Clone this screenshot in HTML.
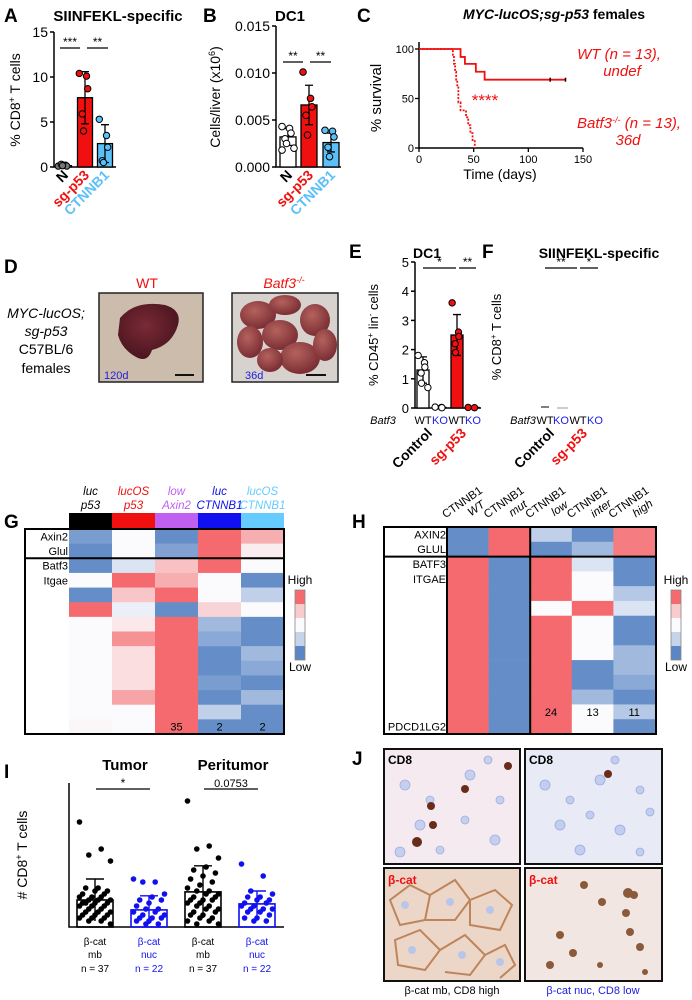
<!DOCTYPE html>
<html><head><meta charset="utf-8"><style>
html,body{margin:0;padding:0;background:#fff;}
svg{display:block;font-family:"Liberation Sans",Arial,sans-serif;}
</style></head><body>
<svg id="fig" width="692" height="1000" viewBox="0 0 692 1000" xmlns="http://www.w3.org/2000/svg">
<defs>
<radialGradient id="liv" cx="45%" cy="40%" r="60%"><stop offset="0" stop-color="#7a2a35"/><stop offset="1" stop-color="#4a1520"/></radialGradient>
<radialGradient id="tum" cx="40%" cy="35%" r="65%"><stop offset="0" stop-color="#b5625e"/><stop offset="1" stop-color="#7a2e33"/></radialGradient>
</defs>
<!-- Panel labels -->
<g font-weight="bold" font-size="19" fill="#000">
<text x="4" y="22">A</text>
<text x="203" y="22">B</text>
<text x="357" y="22">C</text>
<text x="4" y="273">D</text>
<text x="349" y="258">E</text>
<text x="482" y="258">F</text>
<text x="4" y="528">G</text>
<text x="352" y="528">H</text>
<text x="4" y="778">I</text>
<text x="352" y="765">J</text>
</g>
<!-- A -->
<text x="118" y="21" font-size="15" font-weight="bold" text-anchor="middle">SIINFEKL-specific</text>
<text transform="translate(20,100) rotate(-90)" font-size="14" text-anchor="middle">% CD8<tspan font-size="9" dy="-5">+</tspan><tspan dy="5"> T cells</tspan></text>
<g id="gA"></g>
<!-- B -->
<text x="290" y="21" font-size="15" font-weight="bold" text-anchor="middle">DC1</text>
<text transform="translate(220,97) rotate(-90)" font-size="14" text-anchor="middle">Cells/liver (x10<tspan font-size="9" dy="-5">6</tspan><tspan dy="5">)</tspan></text>
<g id="gB"></g>
<!-- C -->
<text x="554" y="19" font-size="14" font-weight="bold" text-anchor="middle"><tspan font-style="italic">MYC-lucOS;sg-p53</tspan> females</text>
<text transform="translate(381,98) rotate(-90)" font-size="15" text-anchor="middle">% survival</text>
<text x="500" y="179" font-size="14" text-anchor="middle">Time (days)</text>
<g fill="#f01010" font-size="15" font-style="italic" text-anchor="middle">
<text x="619" y="59">WT (n = 13),</text>
<text x="622" y="76">undef</text>
<text x="629" y="128">Batf3<tspan font-size="9" dy="-5">-/-</tspan><tspan dy="5"> (n = 13),</tspan></text>
<text x="628" y="145">36d</text>
<text x="485" y="106" font-size="17" font-style="normal">****</text>
</g>
<g id="gC"></g>
<!-- D -->
<text x="147" y="288" font-size="14" fill="#f01010" text-anchor="middle">WT</text>
<text x="284" y="288" font-size="14" fill="#f01010" font-style="italic" text-anchor="middle">Batf3<tspan font-size="9" dy="-5">-/-</tspan></text>
<g font-size="14" text-anchor="middle">
<text x="46" y="318" font-style="italic">MYC-lucOS;</text>
<text x="46" y="336" font-style="italic">sg-p53</text>
<text x="46" y="354">C57BL/6</text>
<text x="46" y="373">females</text>
</g>
<g>
<rect x="99" y="293" width="104" height="89" fill="#cbbcab" stroke="#222" stroke-width="1.5"/>
<path d="M120 318 Q135 300 165 305 Q182 310 178 325 Q172 345 152 350 Q148 362 138 358 Q122 350 118 335 Z" fill="url(#liv)"/>
<text x="104" y="379" font-size="11" fill="#2020e0">120d</text>
<line x1="175" y1="375" x2="194" y2="375" stroke="#111" stroke-width="2"/>
</g>
<g>
<rect x="232" y="293" width="106" height="89" fill="#d8d2cf" stroke="#222" stroke-width="1.5"/>
<g fill="url(#tum)">
<ellipse cx="258" cy="315" rx="18" ry="14"/><ellipse cx="285" cy="305" rx="16" ry="10"/><ellipse cx="315" cy="320" rx="15" ry="16"/>
<ellipse cx="250" cy="342" rx="13" ry="16"/><ellipse cx="280" cy="335" rx="18" ry="15"/><ellipse cx="300" cy="358" rx="20" ry="16"/>
<ellipse cx="325" cy="345" rx="12" ry="16"/><ellipse cx="270" cy="360" rx="13" ry="12"/>
</g>
<text x="245" y="379" font-size="11" fill="#2020e0">36d</text>
<line x1="306" y1="375" x2="326" y2="375" stroke="#111" stroke-width="2"/>
</g>
<!-- E -->
<text x="427" y="258" font-size="14" font-weight="bold" text-anchor="middle">DC1</text>
<text transform="translate(378,335) rotate(-90)" font-size="13" text-anchor="middle">% CD45<tspan font-size="8" dy="-5">+</tspan><tspan dy="5"> lin</tspan><tspan font-size="8" dy="-5">-</tspan><tspan dy="5"> cells</tspan></text>
<g id="gE"></g>
<!-- F -->
<text x="599" y="258" font-size="14" font-weight="bold" text-anchor="middle">SIINFEKL-specific</text>
<text transform="translate(501,337) rotate(-90)" font-size="13" text-anchor="middle">% CD8<tspan font-size="8" dy="-5">+</tspan><tspan dy="5"> T cells</tspan></text>
<g id="gF"></g>
<!-- G -->
<g id="gG"></g>
<!-- H -->
<g id="gH"></g>
<!-- I -->
<text x="125" y="770" font-size="15" font-weight="bold" text-anchor="middle">Tumor</text>
<text x="233" y="770" font-size="15" font-weight="bold" text-anchor="middle">Peritumor</text>
<text transform="translate(27,855) rotate(-90)" font-size="14" text-anchor="middle"># CD8<tspan font-size="9" dy="-5">+</tspan><tspan dy="5"> T cells</tspan></text>
<g id="gI"></g>
<!-- J -->
<g>
<rect x="384" y="749" width="136" height="115" fill="#f4eaf0" stroke="#111" stroke-width="2"/>
<g fill="#c6d0ee" stroke="#9fb0e0" stroke-width="0.8">
<circle cx="405" cy="785" r="5"/><circle cx="430" cy="800" r="4"/><circle cx="470" cy="775" r="5"/><circle cx="500" cy="800" r="4"/><circle cx="420" cy="825" r="5"/><circle cx="465" cy="820" r="4"/><circle cx="495" cy="840" r="5"/><circle cx="440" cy="850" r="4"/><circle cx="400" cy="852" r="5"/><circle cx="488" cy="760" r="4"/>
</g>
<g fill="#6a2c1a"><circle cx="508" cy="766" r="4"/><circle cx="465" cy="789" r="4"/><circle cx="431" cy="806" r="4"/><circle cx="433" cy="825" r="4"/><circle cx="417" cy="842" r="5"/></g>
<text x="388" y="764" font-size="12" font-weight="bold">CD8</text>
</g>
<g>
<rect x="525" y="749" width="137" height="115" fill="#e8eaf6" stroke="#111" stroke-width="2"/>
<g fill="#c2cdf0" stroke="#9aaee2" stroke-width="0.8">
<circle cx="545" cy="785" r="5"/><circle cx="570" cy="800" r="4"/><circle cx="600" cy="780" r="5"/><circle cx="640" cy="790" r="4"/><circle cx="560" cy="825" r="5"/><circle cx="590" cy="815" r="4"/><circle cx="620" cy="830" r="5"/><circle cx="650" cy="812" r="4"/><circle cx="580" cy="850" r="5"/><circle cx="640" cy="852" r="4"/><circle cx="615" cy="760" r="4"/>
</g>
<circle cx="608" cy="774" r="4" fill="#6a2c1a"/>
<text x="529" y="764" font-size="12" font-weight="bold">CD8</text>
</g>
<g>
<rect x="384" y="868" width="136" height="113" fill="#ecd6c8" stroke="#111" stroke-width="2"/>
<g fill="none" stroke="#b3703f" stroke-width="2" opacity="0.8">
<path d="M390 900 L410 885 L430 895 L425 920 L400 925 Z"/><path d="M430 895 L455 880 L470 900 L455 920 L425 920"/><path d="M470 900 L495 890 L512 905 L500 930 L470 925 Z"/>
<path d="M395 940 L420 930 L440 950 L425 970 L398 965 Z"/><path d="M440 950 L465 935 L485 955 L470 975 L445 972"/><path d="M485 955 L505 945 L515 965 L500 978"/>
</g>
<g fill="#b9c6ea"><circle cx="405" cy="905" r="4"/><circle cx="450" cy="902" r="4"/><circle cx="490" cy="910" r="4"/><circle cx="412" cy="950" r="4"/><circle cx="462" cy="955" r="4"/><circle cx="500" cy="962" r="4"/></g>
<text x="388" y="884" font-size="12" font-weight="bold" fill="#f01010">β-cat</text>
</g>
<g>
<rect x="525" y="868" width="137" height="113" fill="#f1e6e2" stroke="#111" stroke-width="2"/>
<g fill="#8a5a3a"><circle cx="584" cy="885" r="4"/><circle cx="628" cy="893" r="5"/><circle cx="634" cy="895" r="4"/><circle cx="602" cy="902" r="4"/><circle cx="626" cy="913" r="4"/><circle cx="560" cy="935" r="4"/><circle cx="573" cy="953" r="4"/><circle cx="630" cy="932" r="4"/><circle cx="640" cy="947" r="4"/><circle cx="550" cy="965" r="4"/><circle cx="600" cy="965" r="3"/><circle cx="645" cy="972" r="3"/></g>
<text x="529" y="884" font-size="12" font-weight="bold" fill="#f01010">β-cat</text>
</g>
<text x="452" y="994" font-size="11" text-anchor="middle">β-cat mb, CD8 high</text>
<text x="593" y="994" font-size="11" fill="#2020e0" text-anchor="middle">β-cat nuc, CD8 low</text>
</svg>
<script>
// ---------- DATA ----------
const aGroups = ["N", "sg-p53", "CTNNB1"];
const aMeans = [0.15, 7.7, 2.6];
const aSD = [0.1, 2.9, 2.1];
const aPoints = [[0.1,0.2,0.1,0.3,0.15],[10.4,10.1,8.7,5.9,4.0],[5.3,3.5,2.2,0.7,0.5]];
const aTicks = [0,5,10,15];

const bGroups = ["N", "sg-p53", "CTNNB1"];
const bMeans = [0.0032, 0.0066, 0.0026];
const bSD = [0.0009, 0.0021, 0.001];
const bPoints = [[0.0043,0.0041,0.0036,0.0030,0.0025,0.0020,0.0018],[0.0101,0.0073,0.0064,0.0055,0.0034],[0.0039,0.0038,0.0032,0.0021,0.0011]];
const bTicks = ["0.000","0.005","0.010","0.015"];

const cWtTime = [0,38,42,52,60,134];
const cWtSurv = [100,92,85,77,69,69];
const cKoTime = [0,31,32,33,34,35,36,38,43,45,47,49,51];
const cKoSurv = [100,92,85,77,69,62,46,38,31,23,15,8,0];
const cCensor = [120,134];
const cTicksX = [0,50,100,150];
const cTicksY = [0,50,100];

const eMeans = [1.3, 0.02, 2.5, 0.02];
const eSD = [0.45, 0.01, 0.7, 0.01];
const ePoints = [[1.8,1.55,1.4,1.2,0.85,0.7],[0.03,0.02,0.01],[3.6,2.6,2.45,2.2,1.9],[0.02,0.01]];
const eTicks = [0,1,2,3,4,5];
const genotypes = ["WT","KO","WT","KO"];

const gCols = ["luc|p53","lucOS|p53","low|Axin2","luc|CTNNB1","lucOS|CTNNB1"];
const gRows = ["Axin2","Glul","Batf3","Itgae","","","","","","","","","",""];
const gValues = [
[-2.4,0,-2.8,3,1.6],[-2.8,0,-2.3,3,0.3],[-2.8,-0.6,1.2,3,0],[0,3,1.6,0,-2.8],
[-2.8,1.1,3,0,-1.1],[3,-0.3,-2.8,0.8,0],[0,0.4,3,-1.7,-2.8],[0,2.2,3,-2.1,-2.8],
[0,0.6,3,-2.8,-1.7],[0,0.6,3,-2.8,-2.1],[0,0.6,3,-2.4,-2.8],[0,1.8,3,-2.8,-1.7],
[0,0,3,-1.1,-2.8],[0.1,0,3,-2.8,-2.8]];
const gCounts = ["","","35","2","2"];

const hCols = ["WT","mut","low","inter","high"];
const hRows = ["AXIN2","GLUL","BATF3","ITGAE","","","","","","","","","","PDCD1LG2"];
const hValues = [
[-2.8,3,-1.1,-2.8,2.6],[-2.8,3,-2.8,-1.7,2.6],[3,-2.8,3,-0.6,-2.8],[3,-2.8,3,0,-2.8],
[3,-2.8,3,0,-1.3],[3,-2.8,0,3,-0.6],[3,-2.8,3,0,-2.8],[3,-2.8,3,0,-2.8],
[3,-2.8,3,0,-1.7],[3,-2.8,3,-2.8,-1.7],[3,-2.8,3,-2.8,-2.1],[3,-2.8,3,-1.7,-2.8],
[3,-2.8,3,0,-1.3],[3,-2.8,3,0,-2.8]];
const hCounts = ["","","24","13","11"];

const iGroups = ["mb","nuc","mb","nuc"];
const iN = [37,22,37,22];
const iMeans = [9,5.7,11.7,7.7];
const iSD = [7,4.7,8.7,4.3];
const iPoints = [
[35,26,24,22,13,13,12,12,11,11,10,10,10,9,9,9,8,8,8,8,7,7,7,6,6,5,5,5,4,4,4,3,3,3,2,2,1],
[16,15,15,11,10,9,9,8,7,6,6,5,5,4,4,3,3,3,2,2,1,1],
[42,27,26,23,20,19,18,17,16,15,14,13,12,12,11,11,10,10,9,9,9,8,8,7,7,6,6,5,5,4,4,3,3,2,2,1,1],
[21,17,12,11,10,10,9,9,8,8,7,7,6,6,6,5,5,4,3,3,2,2]];

// ---------- HELPERS ----------
const NS = "http://www.w3.org/2000/svg";
function mk(tag, attrs, parent){
  const e = document.createElementNS(NS, tag);
  for (const k in attrs) e.setAttribute(k, attrs[k]);
  parent.appendChild(e);
  return e;
}
function txt(s, attrs, parent){ const t = mk('text', attrs, parent); t.textContent = s; return t; }
function lin(y0,y1,v0,v1){ return v => y0 + (v - v0) * (y1 - y0) / (v1 - v0); }

function barPanel(g, o){
  const y = lin(o.base, o.top, 0, o.max);
  const ax = mk('path', {d:`M${o.ax} ${o.top} V${o.base} H${o.axEnd}`, stroke:'#000', 'stroke-width':1.5, fill:'none'}, g);
  
  
  o.ticks.forEach((t,i) => {
    const v = o.tickVals[i];
    const tk = mk('line', {x1:o.ax-4, x2:o.ax, y1:y(v), y2:y(v), stroke:'#000', 'stroke-width':1.5}, g);
    
    
    const tl = txt(String(t), {x:o.ax-6, y:y(v)+5, 'font-size':o.fs, 'text-anchor':'end'}, g);
    
    
  });
  o.means.forEach((m,i) => {
    const cx = o.cx[i];
    const b = mk('rect', {x:cx-o.bw/2, y:y(m), width:o.bw, height:o.base-y(m), fill:o.fills[i], stroke:'#000', 'stroke-width':1.3}, g);
    
    
    const eb = mk('path', {d:`M${cx} ${y(m+o.sd[i])} V${y(Math.max(0,m-o.sd[i]))} M${cx-4} ${y(m+o.sd[i])} H${cx+4} M${cx-4} ${y(Math.max(0,m-o.sd[i]))} H${cx+4}`, stroke:'#000', 'stroke-width':1.3, fill:'none'}, g);
    
    
    o.points[i].forEach((p,j) => {
      const dx = ((j % 3) - 1) * (o.bw*0.28) + (j%2 ? 1.5 : -1.5);
      const c = mk('circle', {cx:cx+dx, cy:y(p), r:o.r, fill:o.pfill[i], stroke:'#000', 'stroke-width':1}, g);
      
      
    });
  });
}

function sig(g, x1, x2, yy, label, fs){
  const l = mk('line', {x1, x2, y1:yy, y2:yy, stroke:'#000', 'stroke-width':1.3}, g);
  
  
  const t = txt(label, {x:(x1+x2)/2, y:yy-2, 'font-size':fs||12, 'text-anchor':'middle'}, g);
  
  
}

function rotLabels(g, xs, labels, colors, y0, fs){
  labels.forEach((s,i) => {
    const t = txt(s, {transform:`translate(${xs[i]+5},${y0}) rotate(-45)`, 'font-size':fs, 'font-weight':'bold', 'text-anchor':'end', fill:colors[i]}, g);
    
    
  });
}

// ---------- A ----------
const gA = document.getElementById('gA');
barPanel(gA, {name:'panel-a', ax:54, axEnd:116, top:32, base:167, max:15, ticks:aTicks, tickVals:aTicks, fs:14,
  means:aMeans, sd:aSD, points:aPoints, cx:[64,85,105], bw:15,
  fills:['#fff','#f01010','#5bc0f8'], pfill:['#777','#f01010','#5bc0f8'], r:3.2});
sig(gA, 60, 80, 48, '***', 12);
sig(gA, 87, 108, 48, '**', 12);
rotLabels(gA, [64,85,105], aGroups, ['#000','#f01010','#5bc0f8'], 176, 14);

// ---------- B ----------
const gB = document.getElementById('gB');
barPanel(gB, {name:'panel-b', ax:276, axEnd:341, top:26, base:167, max:0.015, ticks:bTicks, tickVals:[0,0.005,0.01,0.015], fs:14,
  means:bMeans, sd:bSD, points:bPoints, cx:[288,309,331], bw:16,
  fills:['#fff','#f01010','#5bc0f8'], pfill:['#fff','#f01010','#5bc0f8'], r:3.3});
sig(gB, 283, 303, 62, '**', 12);
sig(gB, 310, 331, 62, '**', 12);
rotLabels(gB, [288,309,331], bGroups, ['#000','#f01010','#5bc0f8'], 176, 14);

// ---------- C ----------
const gC = document.getElementById('gC');
const cx = lin(419, 583, 0, 150);
const cy = lin(148, 49, 0, 100);
const cAx = mk('path', {d:`M419 42 V148 H583`, stroke:'#000', 'stroke-width':1.5, fill:'none'}, gC);


cTicksX.forEach(t => {
  const tk = mk('line', {x1:cx(t), x2:cx(t), y1:148, y2:152, stroke:'#000', 'stroke-width':1.3}, gC);
  
  
  const tl = txt(String(t), {x:cx(t), y:163, 'font-size':11, 'text-anchor':'middle'}, gC);
  
  
});
cTicksY.forEach(t => {
  const tk = mk('line', {x1:415, x2:419, y1:cy(t), y2:cy(t), stroke:'#000', 'stroke-width':1.3}, gC);
  
  
  const tl = txt(String(t), {x:414, y:cy(t)+4, 'font-size':11, 'text-anchor':'end'}, gC);
  
  
});
function stepPath(ts, ss){
  let d = `M${cx(ts[0])} ${cy(ss[0])}`;
  for (let i=1;i<ts.length;i++){ d += ` H${cx(ts[i])} V${cy(ss[i])}`; }
  return d;
}
const wt = mk('path', {d:stepPath(cWtTime,cWtSurv), stroke:'#f01010', 'stroke-width':1.8, fill:'none'}, gC);


const ko = mk('path', {d:stepPath(cKoTime,cKoSurv), stroke:'#f01010', 'stroke-width':1.8, 'stroke-dasharray':'2 1.5', fill:'none'}, gC);


cCensor.forEach(t => {
  const c = mk('line', {x1:cx(t), x2:cx(t), y1:cy(69)-2, y2:cy(69)+2, stroke:'#000', 'stroke-width':1.5}, gC);
  
  
});

// ---------- E ----------
const gE = document.getElementById('gE');
const eX = [423,440,457,473];
barPanel(gE, {name:'panel-e', ax:415, axEnd:481, top:262, base:408, max:5, ticks:eTicks, tickVals:eTicks, fs:13,
  means:eMeans, sd:eSD, points:ePoints, cx:eX, bw:12,
  fills:['#fff','#fff','#f01010','#f01010'], pfill:['#fff','#fff','#f01010','#f01010'], r:3.2});
sig(gE, 423, 456, 268, '*', 12);
sig(gE, 459, 476, 268, '**', 12);
function genoRow(g, xs, bx){
  const b = txt('Batf3', {x:bx, y:424, 'font-size':11, 'font-style':'italic', 'text-anchor':'middle'}, g);
  
  
  genotypes.forEach((s,i) => {
    const t = txt(s, {x:xs[i], y:424, 'font-size':11, 'text-anchor':'middle', fill:s==='KO'?'#2020e0':'#000'}, g);
    
    
  });
  const c = txt('Control', {transform:`translate(${xs[0]+10},434) rotate(-45)`, 'font-size':14, 'font-weight':'bold', 'text-anchor':'end'}, g);
  
  
  const s = txt('sg-p53', {transform:`translate(${xs[2]+10},434) rotate(-45)`, 'font-size':14, 'font-weight':'bold', 'text-anchor':'end', fill:'#f01010'}, g);
  
  
}
genoRow(gE, eX, 383);

// ---------- F ----------
const gF = document.getElementById('gF');
const fX = [545,561,578,595];
sig(gF, 545, 577, 268, '**', 12);
sig(gF, 580, 598, 268, '*', 12);
const d1 = mk('line', {x1:541, x2:549, y1:407, y2:407, stroke:'#000', 'stroke-width':1}, gF);


const d2 = mk('line', {x1:557, x2:568, y1:408, y2:408, stroke:'#999', 'stroke-width':1}, gF);


genoRow(gF, fX, 523);

// ---------- heatmap colour ----------
function hcol(v){
  const blue=[90,134,197], white=[251,251,253], red=[244,106,110];
  const f = Math.min(1, Math.abs(v)/3);
  const tgt = v<0 ? blue : red;
  const c = white.map((w,k)=>Math.round(w + (tgt[k]-w)*f));
  return `rgb(${c[0]},${c[1]},${c[2]})`;
}
function legend(g, x, name){
  const h = txt('High', {x:x+5, y:584, 'font-size':12, 'text-anchor':'middle'}, g);
  
  
  [3,1,0,-1,-3].forEach((v,i) => {
    const r = mk('rect', {x:x, y:590+i*14, width:10, height:14, fill:hcol(v)}, g);
    
    
  });
  const bx = mk('rect', {x:x, y:590, width:10, height:70, fill:'none', stroke:'#888', 'stroke-width':0.8}, g);
  
  
  const l = txt('Low', {x:x+5, y:671, 'font-size':12, 'text-anchor':'middle'}, g);
  
  
}

// ---------- G ----------
const gG = document.getElementById('gG');
const gx0 = 69, gcw = 43, gy0 = 529, grh = (734-529)/14;
const gHeadColors = ['#000','#f01010','#c060f0','#1010f0','#66ccff'];
gCols.forEach((s,i) => {
  const [a,b] = s.split('|');
  const t = txt('', {x:gx0+gcw*i+gcw/2, y:495, 'font-size':11.5, 'font-style':'italic', 'text-anchor':'middle', fill:gHeadColors[i]}, gG);
  
  
  const t1 = mk('tspan', {x:gx0+gcw*i+gcw/2, dy:0}, t); t1.textContent = a;
  const t2 = mk('tspan', {x:gx0+gcw*i+gcw/2, dy:14}, t); t2.textContent = b;
  const band = mk('rect', {x:gx0+gcw*i, y:513, width:gcw, height:15, fill:gHeadColors[i]}, gG);
  
  
});
gValues.forEach((row,r) => row.forEach((v,c) => {
  const cell = mk('rect', {x:gx0+gcw*c, y:gy0+grh*r, width:gcw+0.3, height:grh+0.3, fill:hcol(v)}, gG);
  
  
}));
gRows.forEach((s,r) => {
  if(!s) return;
  const t = txt(s, {x:gx0-1, y:gy0+grh*r+grh/2+4, 'font-size':11, 'text-anchor':'end'}, gG);
  
  
});
gCounts.forEach((s,c) => {
  if(!s) return;
  const t = txt(s, {x:gx0+gcw*c+gcw/2, y:gy0+grh*13+grh/2+4, 'font-size':11, 'text-anchor':'middle'}, gG);
  
  
});
const gBox = mk('rect', {x:25, y:529, width:259, height:205, fill:'none', stroke:'#000', 'stroke-width':2}, gG);


const gSep = mk('line', {x1:25, x2:284, y1:gy0+grh*2, y2:gy0+grh*2, stroke:'#000', 'stroke-width':2}, gG);


legend(gG, 295, 'heatmap-g');

// ---------- H ----------
const gH = document.getElementById('gH');
const hx0 = 447, hcw = 41.6, hy0 = 527, hrh = (734-527)/14;
hCols.forEach((s,i) => {
  const cxh = hx0 + hcw*i + hcw/2;
  const t = txt('', {transform:`translate(${cxh+4},516) rotate(-35)`, 'font-size':11.5, 'text-anchor':'middle'}, gH);
  
  
  const t1 = mk('tspan', {x:0, dy:-13}, t); t1.textContent = 'CTNNB1';
  const t2 = mk('tspan', {x:8, dy:13, 'font-style':'italic'}, t); t2.textContent = s;
});
hValues.forEach((row,r) => row.forEach((v,c) => {
  const cell = mk('rect', {x:hx0+hcw*c, y:hy0+hrh*r, width:hcw+0.3, height:hrh+0.3, fill:hcol(v)}, gH);
  
  
}));
hRows.forEach((s,r) => {
  if(!s) return;
  const t = txt(s, {x:hx0-1, y:hy0+hrh*r+hrh/2+4, 'font-size':11, 'text-anchor':'end'}, gH);
  
  
});
hCounts.forEach((s,c) => {
  if(!s) return;
  const t = txt(s, {x:hx0+hcw*c+hcw/2, y:hy0+hrh*12+hrh/2+4, 'font-size':11, 'text-anchor':'middle'}, gH);
  
  
});
const hBox = mk('rect', {x:384, y:527, width:272, height:207, fill:'none', stroke:'#000', 'stroke-width':2}, gH);


const hSepH = mk('line', {x1:384, x2:656, y1:hy0+hrh*2, y2:hy0+hrh*2, stroke:'#000', 'stroke-width':2}, gH);


const hSepV1 = mk('line', {x1:hx0, x2:hx0, y1:527, y2:734, stroke:'#000', 'stroke-width':2}, gH);


const hSepV2 = mk('line', {x1:hx0+hcw*2, x2:hx0+hcw*2, y1:527, y2:734, stroke:'#000', 'stroke-width':2}, gH);


legend(gH, 671, 'heatmap-h');

// ---------- I ----------
const gI = document.getElementById('gI');
const iy = lin(927, 783, 0, 48);
const iX = [95,149,203,257];
const iCol = ['#000','#1010f0','#000','#1010f0'];
const iAx = mk('path', {d:`M69 783 V927 H284`, stroke:'#000', 'stroke-width':1.5, fill:'none'}, gI);


iMeans.forEach((m,i) => {
  const x = iX[i];
  const b = mk('rect', {x:x-18, y:iy(m), width:36, height:927-iy(m), fill:'none', stroke:iCol[i], 'stroke-width':1.6}, gI);
  
  
  iPoints[i].forEach((p,j) => {
    const dx = ((j*7) % 11 - 5) * 3.1;
    const c = mk('circle', {cx:x+dx, cy:iy(p), r:2.8, fill:iCol[i]}, gI);
    
    
  });
  const e = mk('path', {d:`M${x} ${iy(m+iSD[i])} V${iy(Math.max(0,m-iSD[i]))} M${x-9} ${iy(m+iSD[i])} H${x+9}`, stroke:iCol[i], 'stroke-width':1.4, fill:'none'}, gI);
  
  
  [['β-cat',945],[iGroups[i],958],['n = '+iN[i],972]].forEach(([s,yy]) => {
    const t = txt(s, {x:x, y:yy, 'font-size':10, 'text-anchor':'middle', fill:iCol[i]}, gI);
    
    
  });
});
sig(gI, 96, 150, 789, '*', 12);
sig(gI, 204, 258, 789, '0.0753', 11);
</script>
</body></html>
